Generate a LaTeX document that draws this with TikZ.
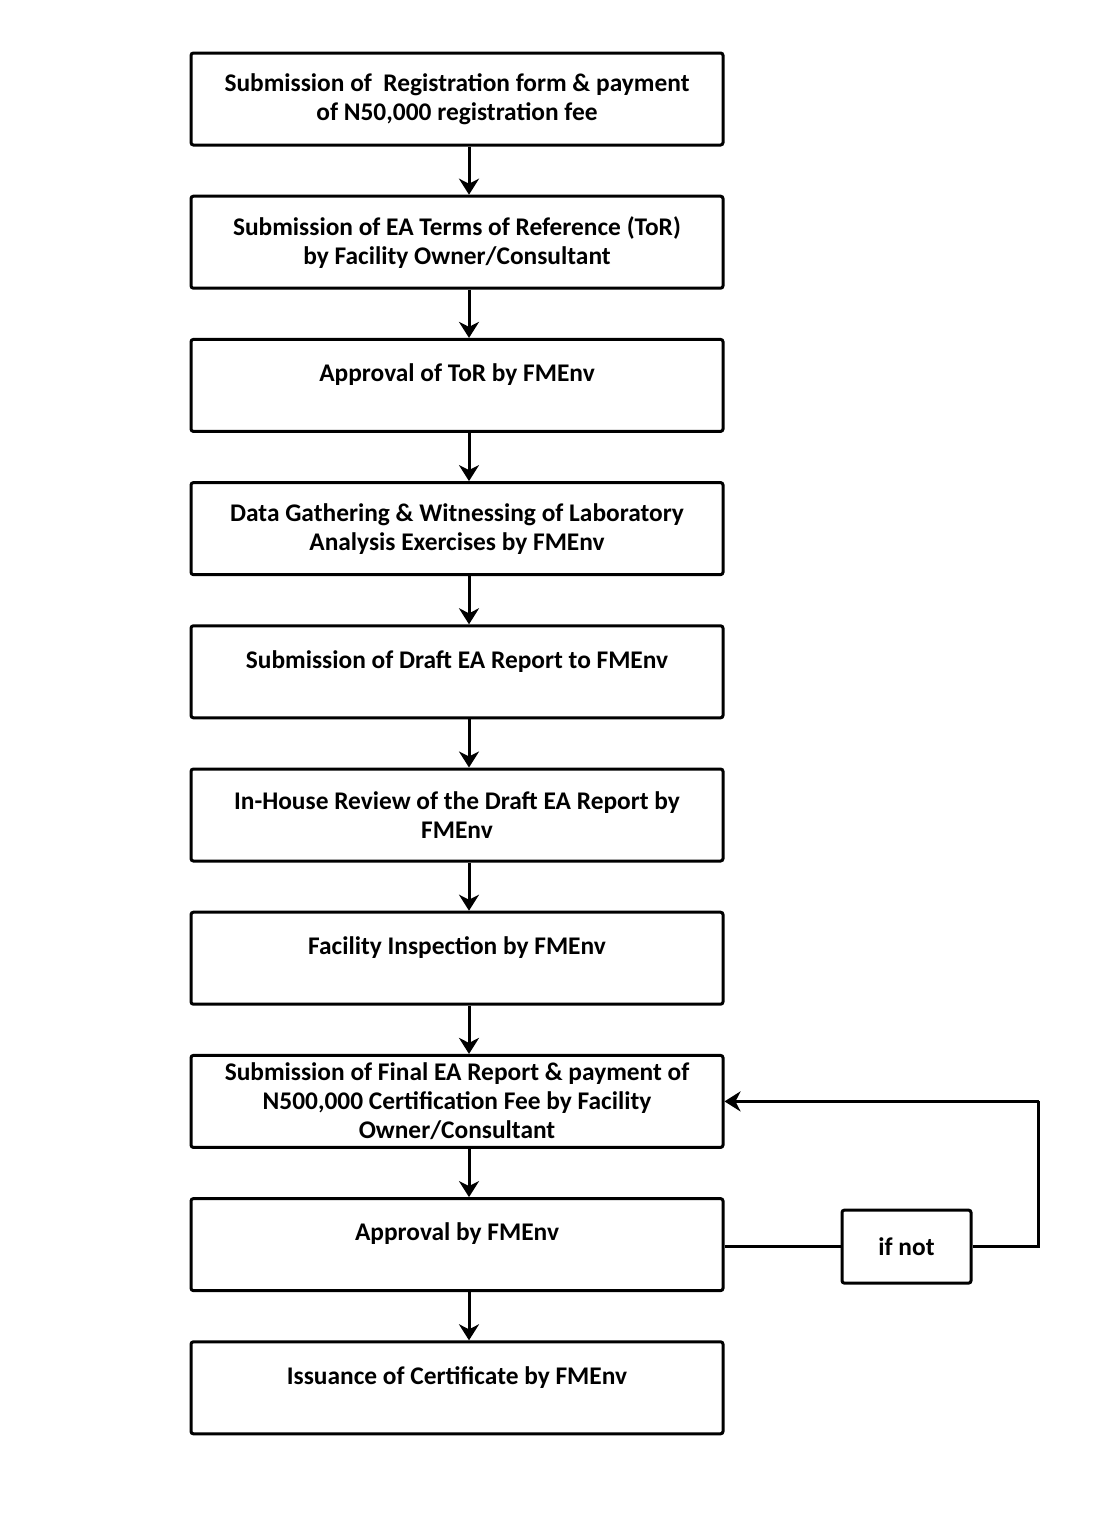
\documentclass[tikz,border=0pt]{standalone}
\usepackage{fontspec}
\setmainfont{Carlito}
\usetikzlibrary{positioning,arrows.meta}
\begin{document}
\begin{tikzpicture}[x=0.5pt,y=-0.5pt,
    stage/.style={draw,line width=1.5pt,rounded corners=1.2pt,minimum width=266pt,minimum height=46pt,
      align=center,font=\bfseries\fontsize{12.7pt}{14.5pt}\selectfont,inner sep=0pt},
    oneline/.style={text height=9pt,text depth=12.8pt},
    flow/.style={line width=1.5pt,-{Stealth[length=8pt,width=10pt,inset=2.5pt]}},
    link/.style={line width=1.5pt},
    node distance=24.1pt]
    \useasboundingbox (0,0) rectangle (1119,1515);
    \node[stage] (reg) at (457,99) {Submission of\ \ Registration form \& payment\\of N50,000 registration fee};
    \node[stage,below=of reg] (tor) {Submission of EA Terms of Reference (ToR)\\by Facility Owner/Consultant};
    \node[stage,oneline,below=of tor] (appt) {Approval of ToR by FMEnv};
    \node[stage,below=of appt] (data) {Data Gathering \& Witnessing of Laboratory\\Analysis Exercises by FMEnv};
    \node[stage,oneline,below=of data] (draft) {Submission of Draft EA Report to FMEnv};
    \node[stage,below=of draft] (review) {In-House Review of the Draft EA Report by\\FMEnv};
    \node[stage,oneline,below=of review] (insp) {Facility Inspection by FMEnv};
    \node[stage,below=of insp] (final) {Submission of Final EA Report \& payment of\\N500,000 Certification Fee by Facility\\Owner/Consultant};
    \node[stage,oneline,below=of final] (appr) {Approval by FMEnv};
    \node[stage,oneline,below=of appr] (cert) {Issuance of Certificate by FMEnv};
    \node[stage,minimum width=64.5pt,minimum height=36.5pt,right=58pt of appr,yshift=-1pt] (ifnot) {if not};
    \coordinate[right=33pt of ifnot.east] (turn);
    \foreach \a/\b in {reg/tor,tor/appt,appt/data,data/draft,draft/review,review/insp,insp/final,final/appr,appr/cert}
        \draw[flow] ([xshift=6pt]\a.south) -- ([xshift=6pt]\b.north);
    \draw[link] (ifnot.west -| appr.east) -- (ifnot.west);
    \draw[link] (ifnot.east) -- (turn) -- (turn |- final.east);
    \draw[flow] (turn |- final.east) -- (final.east);
\end{tikzpicture}
\end{document}
